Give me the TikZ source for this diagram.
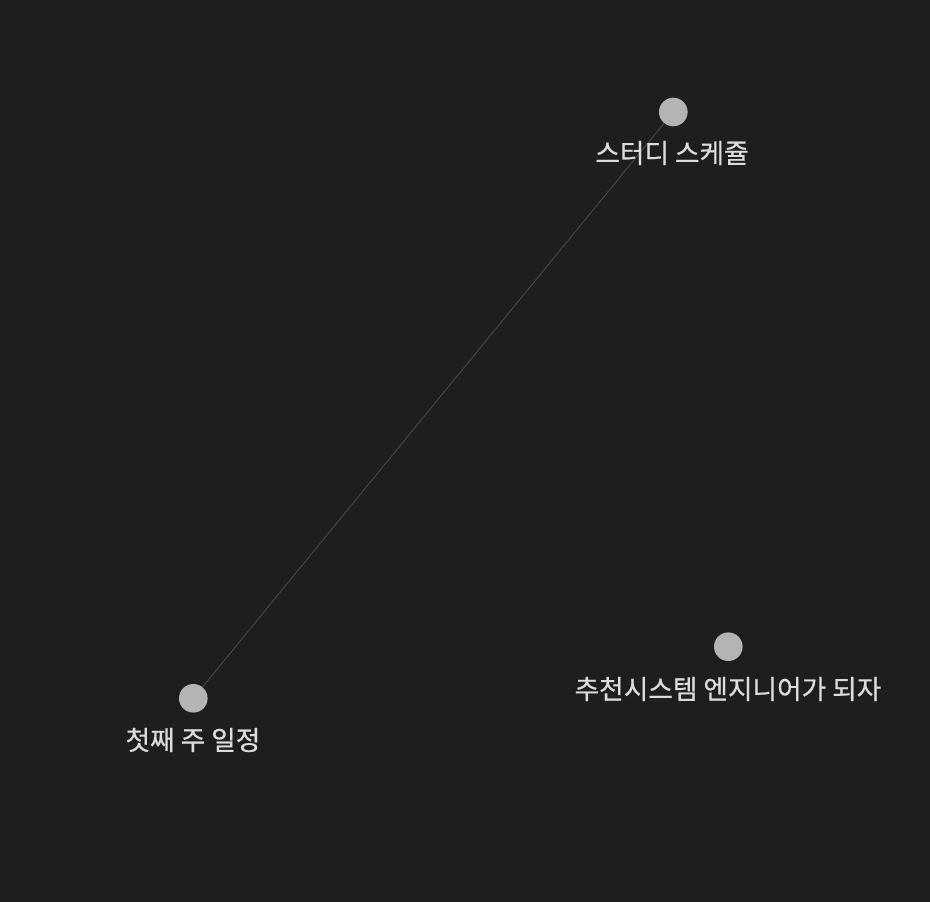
\documentclass[tikz,border=0pt]{standalone}
\usepackage{fontspec}
\newfontfamily\kr[FakeBold=0.6]{Noto Sans CJK KR}
\definecolor{bg}{HTML}{1E1E1E}
\definecolor{dot}{HTML}{B4B4B4}
\definecolor{edge}{HTML}{484848}
\definecolor{txt}{HTML}{DCDCDC}
\begin{document}
\begin{tikzpicture}[x=1pt,y=-1pt,
  dotnode/.style={circle,fill=dot,minimum size=28.6pt,inner sep=0pt},
  lbl/.style={text=txt,font=\kr\fontsize{26.7}{30}\selectfont,inner sep=0pt,anchor=center},
  link/.style={draw=edge,line width=0.9pt}]
\fill[bg] (0,0) rectangle (930,902);
\useasboundingbox (0,0) rectangle (930,902);
\node[dotnode] (a) at (673.3,112) {};
\node[dotnode] (b) at (193.3,698.3) {};
\node[dotnode] (c) at (728.3,646.7) {};
\draw[link] (a) -- (b);
\node[lbl] (la) at (672,153) {스터디 스케쥴};
\node[lbl] (lb) at (193,740) {첫째 주 일정};
\node[lbl] (lc) at (728,689) {추천시스템 엔지니어가 되자};
\end{tikzpicture}
\end{document}
